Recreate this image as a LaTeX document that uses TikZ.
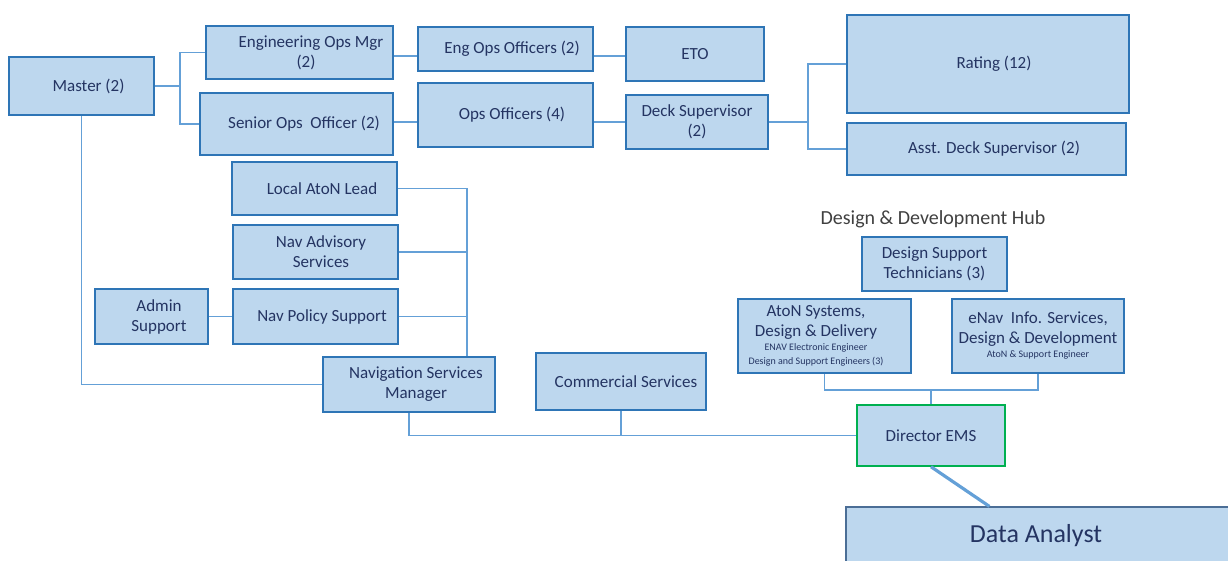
\documentclass[tikz,border=0pt]{standalone}
\usepackage{fontspec}
\setmainfont{Carlito}
\definecolor{boxfill}{RGB}{189,215,238}
\definecolor{boxline}{RGB}{46,117,182}
\definecolor{connline}{RGB}{100,160,215}
\definecolor{txtnavy}{RGB}{36,52,98}
\definecolor{dirgreen}{RGB}{0,176,80}
\definecolor{dagray}{RGB}{75,110,150}
\definecolor{hubgray}{RGB}{64,64,64}
\newcommand{\pushr}[1]{\hspace*{#1pt}}
\begin{document}
\begin{tikzpicture}[x=1pt,y=-1pt,
  orgbox/.style={rectangle,draw=boxline,fill=boxfill,line width=1.6pt,inner sep=0pt,
    text=txtnavy,align=center,font=\fontsize{17}{20}\selectfont},
  conn/.style={draw=connline,line width=1.4pt},
  thickconn/.style={draw=connline,line width=3.2pt}]
\useasboundingbox (0,0) rectangle (1228,560);

% top-left group
\node[orgbox,minimum width=145,minimum height=58] (master) at (81.5,86) {\pushr{14}Master (2)};
\node[orgbox,minimum width=187,minimum height=53] (engmgr) at (299.5,52.5) {\pushr{23}Engineering Ops Mgr\\\pushr{13}(2)};
\node[orgbox,minimum width=193,minimum height=62] (senior) at (296.5,124) {\pushr{15}Senior Ops~ Officer (2)};
\node[orgbox,minimum width=175,minimum height=44] (engoff) at (505.5,49) {\pushr{13}Eng Ops Officers (2)};
\node[orgbox,minimum width=175,minimum height=64] (opsoff) at (505.5,115) {\pushr{13}Ops Officers (4)};
\node[orgbox,minimum width=138,minimum height=54] (eto) at (695,54) {ETO};
\node[orgbox,minimum width=142,minimum height=54] (deck) at (697,122) {Deck Supervisor\\(2)};
\node[orgbox,minimum width=282,minimum height=98] (rating) at (988,64) {\pushr{12}Rating (12)};
\node[orgbox,minimum width=279,minimum height=52] (asst) at (986.5,149) {\pushr{15}Asst. Deck Supervisor (2)};

% navigation group
\node[orgbox,minimum width=165,minimum height=53] (local) at (314.5,188.5) {\pushr{15}Local AtoN Lead};
\node[orgbox,minimum width=165,minimum height=54] (advis) at (315.5,252) {\pushr{11}Nav Advisory\\\pushr{11}Services};
\node[orgbox,minimum width=165,minimum height=55] (policy) at (315.5,316.5) {\pushr{13}Nav Policy Support};
\node[orgbox,minimum width=113,minimum height=55] (admin) at (151.5,316.5) {\pushr{15}Admin\\\pushr{15}Support};
\node[orgbox,minimum width=172,minimum height=55] (nsm) at (409,384.5) {\pushr{14}Navigation Services\\\pushr{14}Manager};
\node[orgbox,minimum width=170,minimum height=57] (comm) at (621,381.5) {\pushr{10}Commercial Services};

% design hub
\node[text=hubgray,font=\fontsize{20}{24}\selectfont] (hub) at (933,219) {Design \& Development Hub};
\node[orgbox,minimum width=145,minimum height=54] (dst) at (934.5,264) {Design Support\\Technicians (3)};
\node[orgbox,minimum width=173,minimum height=74] (aton) at (824.5,336) {\pushr{-17}AtoN Systems,\\\pushr{-17}Design \& Delivery\\[-6pt]{\fontsize{10}{12}\selectfont \pushr{-17}ENAV Electronic Engineer}\\[-6pt]{\fontsize{10}{12}\selectfont \pushr{-17}Design and Support Engineers (3)}};
\node[orgbox,minimum width=172,minimum height=74] (enav) at (1038,336) {eNav~ Info. Services,\\Design \& Development\\[-6pt]{\fontsize{10}{12}\selectfont AtoN \& Support Engineer}};
\node[orgbox,draw=dirgreen,line width=1.5pt,minimum width=148,minimum height=61] (director) at (931,435.5) {Director EMS};
\node[orgbox,draw=dagray,line width=1.2pt,minimum width=390,minimum height=58,font=\fontsize{26}{30}\selectfont] (data) at (1041,536) {\pushr{-10}Data Analyst};

% junction coordinates
\coordinate (mj) at (180,86);
\coordinate (rowA) at (0,56);
\coordinate (rowB) at (0,122);
\coordinate (dj) at (808,122);
\coordinate (nj) at (467,188.5);
\coordinate (hj) at (0,390);

% connectors
\draw[conn] (master.east) -- (mj);
\draw[conn] (mj) |- (engmgr.west);
\draw[conn] (mj) |- (senior.west);
\draw[conn] (engmgr.east |- rowA) -- (engoff.west |- rowA);
\draw[conn] (engoff.east |- rowA) -- (eto.west |- rowA);
\draw[conn] (senior.east |- rowB) -- (opsoff.west |- rowB);
\draw[conn] (opsoff.east |- rowB) -- (deck.west |- rowB);
\draw[conn] (deck.east) -- (dj);
\draw[conn] (dj) |- (rating.west);
\draw[conn] (dj) |- (asst.west);
\draw[conn] (master.south) |- (nsm.west);
\draw[conn] (local.east) -- (nj) -- (nj |- nsm.north);
\draw[conn] (advis.east) -- (advis.east -| nj);
\draw[conn] (policy.east) -- (policy.east -| nj);
\draw[conn] (admin.east) -- (policy.west);
\draw[conn] (nsm.south) |- (director.west);
\draw[conn] (comm.south) -- (comm.south |- director.west);
\draw[conn] (aton.south) |- (enav.south |- hj) -- (enav.south);
\draw[conn] (director.north) -- (director.north |- hj);
\draw[thickconn] (director.south) -- ([xshift=144]data.north west);
\end{tikzpicture}
\end{document}
